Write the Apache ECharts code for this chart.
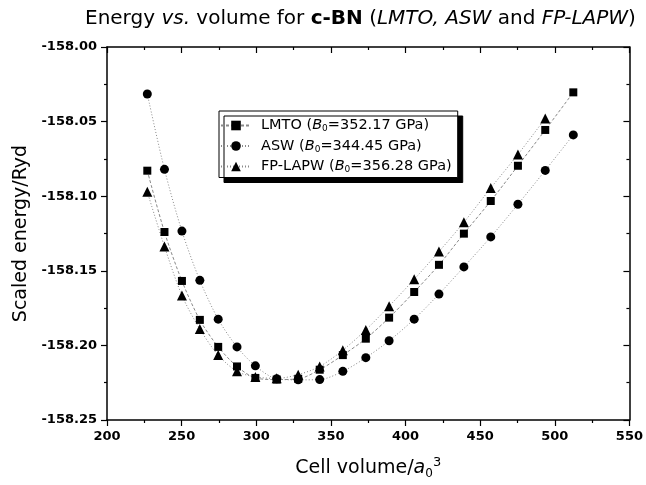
<!DOCTYPE html>
<html>
<head>
<meta charset="utf-8">
<script src="https://cdn.jsdelivr.net/npm/echarts@6/dist/echarts.min.js"></script>
<style>
  html, body { margin: 0; padding: 0; background: #fff; }
  #main { width: 646px; height: 485px; }
</style>
</head>
<body>
<div id="main"></div>
<script>
var chartDom = document.getElementById('main');
var myChart = echarts.init(chartDom);
var option;

// cell volume (a0^3)
var volume = [227.0, 238.5, 250.2, 262.2, 274.5, 287.1, 299.4, 313.7, 328.1, 342.5,
  358.0, 373.4, 389.0, 405.8, 422.4, 439.1, 457.1, 475.3, 493.6, 512.4];
// scaled energy (Ryd)
var lmtoEnergy = [-158.0829, -158.1240, -158.1568, -158.1829, -158.2010, -158.2141, -158.2218,
  -158.2229, -158.2224, -158.2163, -158.2065, -158.1955, -158.1814, -158.1642, -158.1460,
  -158.1251, -158.1032, -158.0796, -158.0556, -158.0304];
var aswEnergy = [-158.0315, -158.0820, -158.1234, -158.1564, -158.1824, -158.2010, -158.2137,
  -158.2224, -158.2231, -158.2229, -158.2174, -158.2082, -158.1969, -158.1824, -158.1656,
  -158.1474, -158.1273, -158.1054, -158.0827, -158.0589];
var lapwEnergy = [-158.0971, -158.1337, -158.1665, -158.1890, -158.2065, -158.2174, -158.2211,
  -158.2221, -158.2196, -158.2141, -158.2032, -158.1896, -158.1737, -158.1557, -158.1371,
  -158.1175, -158.0945, -158.0720, -158.0479];

var methods = ['LMTO', 'ASW', 'FP-LAPW'];
var bulkModulus = ['352.17', '344.45', '356.28'];
var xTicks = { min: 200, max: 550, step: 50 };
var yTicks = { min: -158.25, max: -158.0, step: 0.05 };

function pairs(ys) {
  return ys.map(function (y, i) { return [volume[i], y]; });
}

var FONT = 'DejaVu Sans';
var richBase = {
  i: { fontFamily: FONT, fontSize: 19, fontStyle: 'italic', lineHeight: 24, verticalAlign: 'middle' },
  s: { fontFamily: FONT, fontSize: 12, verticalAlign: 'bottom', lineHeight: 24 },
  p: { fontFamily: FONT, fontSize: 13, verticalAlign: 'top', lineHeight: 24 }
};

function makeSeries(name, ys, symbol, size, dash) {
  return {
    name: name,
    type: 'line',
    data: pairs(ys),
    smooth: 0.3,
    symbol: symbol,
    symbolSize: size,
    showAllSymbol: true,
    itemStyle: { color: '#000' },
    lineStyle: { color: '#8a8a8a', width: 1, type: dash },
    emphasis: { disabled: true }
  };
}

var frameAxis = {
  type: 'value',
  axisLine: { show: true, lineStyle: { color: '#000', width: 1.5 } },
  splitLine: { show: false }
};

option = {
  backgroundColor: '#fff',
  animation: false,
  title: {
    text: 'Energy {i|vs.} volume for {b|c-BN} ({i|LMTO,} {i|ASW} and {i|FP-LAPW})',
    left: 80,
    top: 4,
    textStyle: {
      fontFamily: FONT,
      fontSize: 20,
      fontWeight: 'normal',
      color: '#000',
      rich: {
        i: { fontFamily: FONT, fontSize: 20, fontStyle: 'italic', color: '#000' },
        b: { fontFamily: FONT, fontSize: 20, fontWeight: 'bold', color: '#000' }
      }
    }
  },
  legend: {
    orient: 'vertical',
    left: 219,
    top: 111,
    itemWidth: 30,
    itemHeight: 12,
    itemGap: 5,
    padding: [7, 6, 3, 1],
    backgroundColor: '#fff',
    borderColor: '#000',
    borderWidth: 1,
    shadowColor: '#000',
    shadowOffsetX: 5,
    shadowOffsetY: 5,
    shadowBlur: 0,
    data: methods,
    formatter: function (name) {
      var k = methods.indexOf(name);
      return name + ' ({i|B}{s|0}=' + bulkModulus[k] + ' GPa)';
    },
    textStyle: {
      fontFamily: FONT,
      fontSize: 14.5,
      color: '#000',
      padding: [0, 0, 0, 5],
      rich: {
        i: { fontFamily: FONT, fontSize: 14.5, fontStyle: 'italic', color: '#000', lineHeight: 16 },
        s: { fontFamily: FONT, fontSize: 9, color: '#000', verticalAlign: 'bottom', lineHeight: 16 }
      }
    }
  },
  grid: { left: 107, right: 11, top: 47, bottom: 57 },
  xAxis: [
    Object.assign({}, frameAxis, {
      min: xTicks.min,
      max: xTicks.max,
      interval: xTicks.step,
      position: 'bottom',
      name: 'Cell volume/{i|a}{s|0}{p|3}',
      nameLocation: 'middle',
      nameGap: 36,
      nameTextStyle: { fontFamily: FONT, fontSize: 19, color: '#000', rich: richBase },
      axisTick: { show: true, length: 6, lineStyle: { color: '#000', width: 1.2 } },
      minorTick: { show: true, splitNumber: 2, length: 3, lineStyle: { color: '#000', width: 1.2 } },
      axisLabel: { fontFamily: FONT, fontSize: 13, fontWeight: 'bold', color: '#000', margin: 10 }
    }),
    Object.assign({}, frameAxis, {
      min: xTicks.min,
      max: xTicks.max,
      interval: xTicks.step,
      position: 'top',
      axisTick: { show: true, inside: true, length: 6, lineStyle: { color: '#000', width: 1.2 } },
      minorTick: { show: true, splitNumber: 2, length: 3, lineStyle: { color: '#000', width: 1.2 } },
      axisLabel: { show: false }
    })
  ],
  yAxis: [
    Object.assign({}, frameAxis, {
      min: yTicks.min,
      max: yTicks.max,
      interval: yTicks.step,
      position: 'left',
      name: 'Scaled energy/Ryd',
      nameLocation: 'middle',
      nameGap: 76,
      nameTextStyle: { fontFamily: FONT, fontSize: 19, color: '#000' },
      axisTick: { show: true, length: 6, lineStyle: { color: '#000', width: 1.2 } },
      minorTick: { show: true, splitNumber: 2, length: 3, lineStyle: { color: '#000', width: 1.2 } },
      axisLabel: {
        fontFamily: FONT, fontSize: 13, fontWeight: 'bold', color: '#000', margin: 10,
        formatter: function (v) { return v.toFixed(2); }
      }
    }),
    Object.assign({}, frameAxis, {
      min: yTicks.min,
      max: yTicks.max,
      interval: yTicks.step,
      position: 'right',
      axisTick: { show: true, inside: true, length: 6, lineStyle: { color: '#000', width: 1.2 } },
      minorTick: { show: true, splitNumber: 2, length: 3, lineStyle: { color: '#000', width: 1.2 } },
      axisLabel: { show: false }
    })
  ],
  series: [
    makeSeries('LMTO', lmtoEnergy, 'rect', 8, [3, 2]),
    makeSeries('ASW', aswEnergy, 'circle', 9, [1, 2]),
    makeSeries('FP-LAPW', lapwEnergy, 'triangle', 10, [1, 2])
  ]
};

option && myChart.setOption(option);
</script>
</body>
</html>
